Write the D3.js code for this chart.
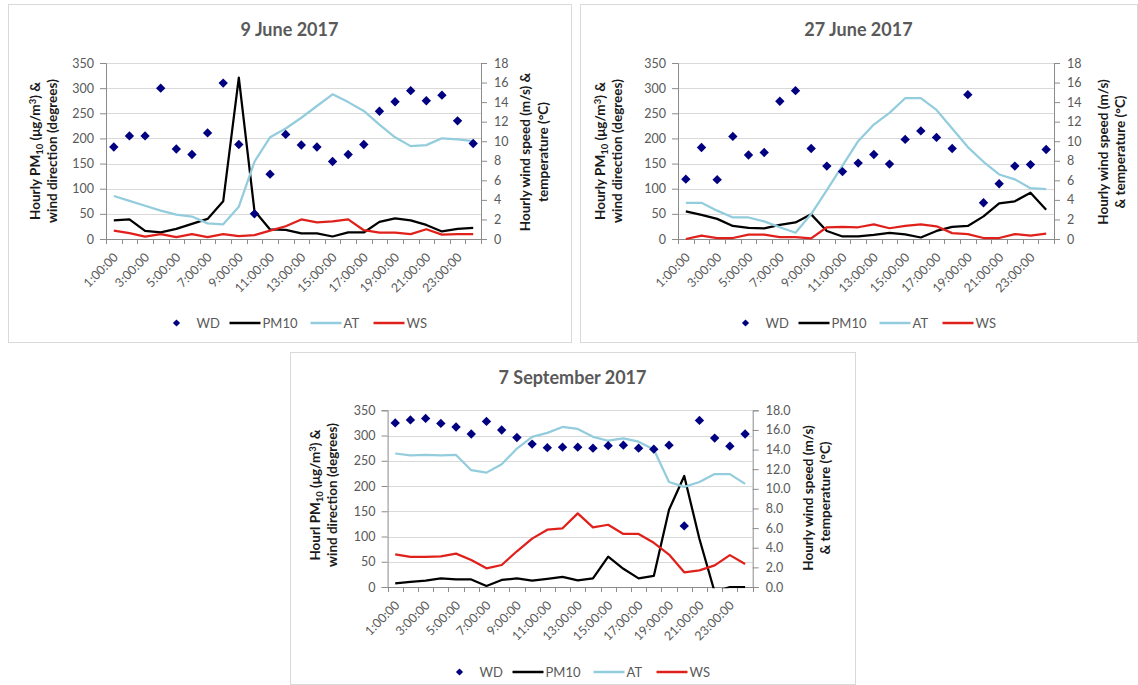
<!DOCTYPE html>
<meta charset="utf-8">
<style>
  body { margin: 0; background: #fff; }
  svg { display: block; font-family: Lato, "Open Sans", sans-serif; }
</style>
<svg width="1138" height="685"></svg>
<script src="https://d3js.org/d3.v7.min.js"></script>
<script>
  var hours = ["1:00:00", "2:00:00", "3:00:00", "4:00:00", "5:00:00", "6:00:00", "7:00:00", "8:00:00",
    "9:00:00", "10:00:00", "11:00:00", "12:00:00", "13:00:00", "14:00:00", "15:00:00", "16:00:00",
    "17:00:00", "18:00:00", "19:00:00", "20:00:00", "21:00:00", "22:00:00", "23:00:00", "0:00:00"];
  var leftTicks = [0, 50, 100, 150, 200, 250, 300, 350];
  var rightTicks = [0, 2, 4, 6, 8, 10, 12, 14, 16, 18];
  var seriesNames = ["WD", "PM10", "AT", "WS"];

  // 9 June 2017
  var wdJun9 = [183, 205, 205, 300, 179, 168, 211, 310, 188, 50, 129, 208, 187, 183, 154, 168, 188, 254, 273, 295, 275, 286, 235, 190];
  var pm10Jun9 = [37, 39, 16, 13, 20, 30, 40, 75, 321, 56, 19, 18, 11, 11, 5, 13, 13, 34, 41, 37, 28, 15, 20, 22];
  var atJun9 = [4.4, 3.9, 3.4, 2.9, 2.5, 2.3, 1.6, 1.5, 3.3, 7.9, 10.4, 11.3, 12.4, 13.6, 14.8, 14.0, 13.1, 11.7, 10.4, 9.5, 9.6, 10.3, 10.2, 10.0];
  var wsJun9 = [0.85, 0.6, 0.25, 0.5, 0.2, 0.5, 0.2, 0.5, 0.3, 0.4, 0.85, 1.3, 2.0, 1.7, 1.8, 2.0, 0.9, 0.65, 0.65, 0.5, 1.0, 0.45, 0.5, 0.5];

  // 27 June 2017
  var wdJun27 = [119, 182, 118, 204, 167, 172, 274, 295, 180, 145, 134, 151, 168, 149, 198, 215, 202, 180, 287, 72, 110, 145, 148, 178];
  var pm10Jun27 = [55, 48, 40, 26, 22, 21, 28, 33, 49, 16, 5, 5, 8, 12, 9, 3, 16, 24, 26, 45, 71, 75, 92, 58];
  var atJun27 = [3.7, 3.7, 2.9, 2.2, 2.2, 1.8, 1.2, 0.64, 2.55, 5.0, 7.5, 10.0, 11.7, 12.9, 14.4, 14.4, 13.2, 11.3, 9.4, 7.9, 6.6, 6.1, 5.2, 5.1];
  var wsJun27 = [0, 0.35, 0.1, 0.1, 0.45, 0.45, 0.2, 0.2, 0.07, 1.2, 1.25, 1.2, 1.5, 1.1, 1.35, 1.5, 1.3, 0.6, 0.5, 0.1, 0.1, 0.5, 0.35, 0.55];

  // 7 September 2017
  var wdSep7 = [325, 331, 334, 324, 317, 303, 328, 311, 296, 283, 276, 277, 277, 275, 280, 281, 275, 273, 281, 121, 330, 295, 279, 303];
  var pm10Sep7 = [7, 10, 12.5, 17, 15, 15, 2, 14, 17, 12.5, 16, 20, 13, 17, 60, 36, 17, 22, 153, 220, 95, -10, 0, 0];
  var atSep7 = [13.6, 13.4, 13.45, 13.4, 13.45, 11.9, 11.65, 12.5, 14.1, 15.3, 15.7, 16.3, 16.1, 15.3, 14.9, 15.15, 14.8, 14.0, 10.7, 10.2, 10.7, 11.5, 11.5, 10.5];
  var wsSep7 = [3.33, 3.06, 3.06, 3.13, 3.4, 2.75, 1.9, 2.24, 3.64, 4.93, 5.84, 5.98, 7.5, 6.07, 6.34, 5.4, 5.4, 4.5, 3.3, 1.5, 1.7, 2.2, 3.25, 2.34];

  var colors = { WD: "#000080", PM10: "#000000", AT: "#93cddd", WS: "#e0201b" };
  var svg = d3.select("svg");

  var panels = [
    { id: "p1", title: "9 June 2017", box: [8, 4, 571, 342], plot: [106, 63, 481, 239], titleY: 36,
      wd: wdJun9, pm10: pm10Jun9, at: atJun9, ws: wsJun9, rfmt: d3.format("d"),
      leftTitle: [35, 52, 151, "Hourly "], rightTitle: [525, 543, 152, "Hourly wind speed (m/s) &", "temperature (°C)"],
      legendY: 323 },
    { id: "p2", title: "27 June 2017", box: [580, 4, 1137, 342], plot: [678, 63, 1054, 239], titleY: 36,
      wd: wdJun27, pm10: pm10Jun27, at: atJun27, ws: wsJun27, rfmt: d3.format("d"),
      leftTitle: [600, 617, 151, "Hourly "], rightTitle: [1103, 1120, 152, "Hourly wind speed (m/s)", "& temperature (°C)"],
      legendY: 323 },
    { id: "p3", title: "7 September 2017", box: [290, 352, 855, 684], plot: [387.6, 410.3, 752.7, 587], titleY: 384,
      wd: wdSep7, pm10: pm10Sep7, at: atSep7, ws: wsSep7, rfmt: d3.format(".1f"),
      leftTitle: [315, 332, 495, "Hourl "], rightTitle: [808, 825, 498, "Hourly wind speed (m/s)", "& temperature (°C)"],
      legendY: 672 }
  ];

  panels.forEach(drawPanel);

  function drawPanel(p) {
    var g = svg.append("g");
    var left = p.plot[0], top = p.plot[1], right = p.plot[2], bottom = p.plot[3];
    var cx = (p.box[0] + p.box[2]) / 2;

    g.append("rect")
      .attr("x", p.box[0] + 0.5).attr("y", p.box[1] + 0.5)
      .attr("width", p.box[2] - p.box[0]).attr("height", p.box[3] - p.box[1])
      .attr("fill", "#fff").attr("stroke", "#d9d9d9");

    g.append("text")
      .attr("x", cx).attr("y", p.titleY)
      .attr("text-anchor", "middle")
      .style("font-size", "18px").style("font-weight", "bold").style("fill", "#595959")
      .text(p.title);

    var x = d3.scaleBand().domain(hours).range([left, right]);
    var yL = d3.scaleLinear().domain([0, 350]).range([bottom, top]);
    var yR = d3.scaleLinear().domain([0, 18]).range([bottom, top]);

    // gridlines
    g.append("g").selectAll("line").data(leftTicks.slice(1)).join("line")
      .attr("x1", left).attr("x2", right)
      .attr("y1", function(d) { return Math.round(yL(d)) + 0.5; })
      .attr("y2", function(d) { return Math.round(yL(d)) + 0.5; })
      .attr("stroke", "#d9d9d9");

    var la = g.append("g").attr("transform", "translate(" + left + ",0)")
      .call(d3.axisLeft(yL).tickValues(leftTicks).tickSize(6).tickPadding(6));
    styleAxis(la);

    var ra = g.append("g").attr("transform", "translate(" + right + ",0)")
      .call(d3.axisRight(yR).tickValues(rightTicks).tickSize(6).tickPadding(7).tickFormat(p.rfmt));
    styleAxis(ra);

    // category axis: tick marks between categories, every other label
    var xa = g.append("g").attr("transform", "translate(0," + bottom + ")")
      .call(d3.axisBottom(x).tickValues(hours.filter(function(d, i) { return i % 2 === 0; })).tickSize(0));
    styleAxis(xa);
    xa.selectAll(".tick text")
      .attr("x", 0).attr("y", 0).attr("dy", "0.35em")
      .attr("text-anchor", "end")
      .attr("transform", "translate(2,16) rotate(-45)");
    var bounds = hours.map(function(d) { return x(d); }).concat([right]);
    xa.selectAll(".sep").data(bounds).join("line").attr("class", "sep")
      .attr("x1", function(d) { return Math.round(d) + 0.5; })
      .attr("x2", function(d) { return Math.round(d) + 0.5; })
      .attr("y1", 0).attr("y2", 5).attr("stroke", "#8c8c8c");

    // clip for series
    g.append("clipPath").attr("id", "clip-" + p.id).append("rect")
      .attr("x", left - 2).attr("y", top - 10).attr("width", right - left + 4).attr("height", bottom - top + 10 + 1.2);
    var s = g.append("g").attr("clip-path", "url(#clip-" + p.id + ")");

    function cxOf(i) { return x(hours[i]) + x.bandwidth() / 2; }

    var lineL = d3.line().x(function(d, i) { return cxOf(i); }).y(function(d) { return yL(d); });
    var lineR = d3.line().x(function(d, i) { return cxOf(i); }).y(function(d) { return yR(d); });

    s.append("path").datum(p.pm10).attr("d", lineL)
      .attr("fill", "none").attr("stroke", colors.PM10).attr("stroke-width", 2.25).attr("stroke-linejoin", "round");
    s.append("path").datum(p.at).attr("d", lineR)
      .attr("fill", "none").attr("stroke", colors.AT).attr("stroke-width", 2.25).attr("stroke-linejoin", "round");
    s.append("path").datum(p.ws).attr("d", lineR)
      .attr("fill", "none").attr("stroke", colors.WS).attr("stroke-width", 2.25).attr("stroke-linejoin", "round");

    var diamond = d3.symbol().type(d3.symbolSquare).size(44);
    g.append("g").selectAll("path").data(p.wd).join("path")
      .attr("d", diamond)
      .attr("transform", function(d, i) { return "translate(" + cxOf(i) + "," + yL(d) + ") rotate(45)"; })
      .attr("fill", colors.WD);

    // axis titles
    var lt = p.leftTitle;
    var t1 = g.append("text").attr("transform", "translate(" + lt[0] + "," + lt[2] + ") rotate(-90)")
      .attr("text-anchor", "middle").attr("dy", "0.35em").attr("class", "atitle");
    t1.append("tspan").text(lt[3] + "PM");
    t1.append("tspan").attr("dy", 3).style("font-size", "9.5px").text("10");
    t1.append("tspan").attr("dy", -3).text(" (μg/m");
    t1.append("tspan").attr("dy", -4).style("font-size", "9.5px").text("3");
    t1.append("tspan").attr("dy", 4).text(") &");
    g.append("text").attr("transform", "translate(" + lt[1] + "," + lt[2] + ") rotate(-90)")
      .attr("text-anchor", "middle").attr("dy", "0.35em").attr("class", "atitle")
      .text("wind direction (degrees)");

    var rt = p.rightTitle;
    g.append("text").attr("transform", "translate(" + rt[0] + "," + rt[2] + ") rotate(-90)")
      .attr("text-anchor", "middle").attr("dy", "0.35em").attr("class", "atitle").text(rt[3]);
    g.append("text").attr("transform", "translate(" + rt[1] + "," + rt[2] + ") rotate(-90)")
      .attr("text-anchor", "middle").attr("dy", "0.35em").attr("class", "atitle").text(rt[4]);

    g.selectAll(".atitle").style("font-size", "13.5px").style("font-weight", "bold").style("fill", "#1a1a1a");

    // legend
    var lg = g.append("g").attr("transform", "translate(" + cx + "," + p.legendY + ")");
    lg.append("path").attr("d", d3.symbol().type(d3.symbolSquare).size(26))
      .attr("transform", "translate(-113,0) rotate(45)").attr("fill", colors.WD);
    lg.append("text").attr("x", -93).attr("dy", "0.35em").text("WD");
    [["PM10", -60], ["AT", 21], ["WS", 84]].forEach(function(it) {
      lg.append("line").attr("x1", it[1]).attr("x2", it[1] + 31)
        .attr("stroke", colors[it[0]]).attr("stroke-width", 2.5);
      lg.append("text").attr("x", it[1] + 33).attr("dy", "0.35em").text(it[0]);
    });
    lg.selectAll("text").style("font-size", "13px").style("fill", "#595959");
  }

  function styleAxis(a) {
    a.select(".domain").attr("stroke", "#8c8c8c");
    a.selectAll(".tick line").attr("stroke", "#8c8c8c");
    a.selectAll(".tick text").style("font-size", "12.5px").style("fill", "#595959").style("font-family", "Lato, 'Open Sans', sans-serif");
  }
</script>
